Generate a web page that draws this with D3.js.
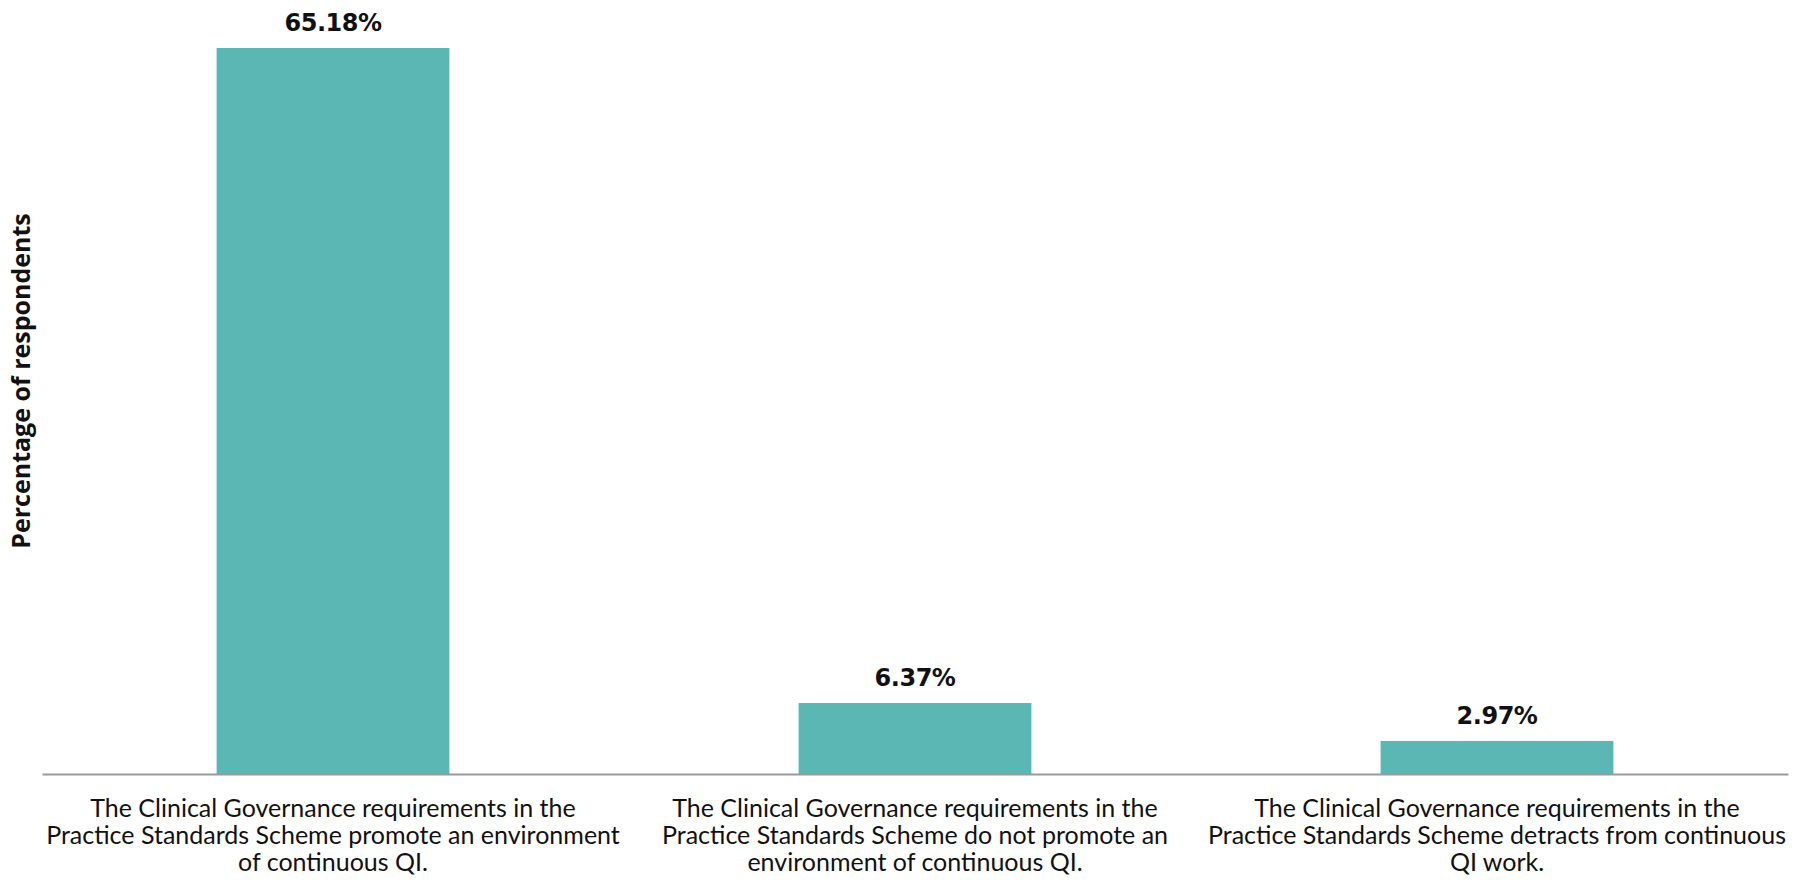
<!DOCTYPE html>
<html>
<head>
<meta charset="utf-8">
<script src="https://cdn.jsdelivr.net/npm/d3@7"></script>
<style>
  body { margin: 0; background: #fff; }
  svg { display: block; }
</style>
</head>
<body>
<div id="chart"></div>
<script>
// data
const categories = [
  "The Clinical Governance requirements in the|Practice Standards Scheme promote an environment|of continuous QI.",
  "The Clinical Governance requirements in the|Practice Standards Scheme do not promote an|environment of continuous QI.",
  "The Clinical Governance requirements in the|Practice Standards Scheme detracts from continuous|QI work."
];
const values = [65.18, 6.37, 2.97];
const valueLabels = ["65.18%", "6.37%", "2.97%"];
const yTitle = "Percentage of respondents";

const width = 1798, height = 885;
const margin = { top: 48, right: 10, bottom: 111, left: 42 };

const svg = d3.select('#chart').append('svg')
  .attr('width', width)
  .attr('height', height);

const x = d3.scaleBand()
  .domain(d3.range(categories.length))
  .range([margin.left, width - margin.right])
  .paddingInner(0.6)
  .paddingOuter(0.3);

const y = d3.scaleLinear()
  .domain([0, d3.max(values)])
  .range([height - margin.bottom, margin.top]);

svg.selectAll('.bar')
  .data(values)
  .join('rect')
  .attr('class', 'bar')
  .attr('x', (d, i) => x(i))
  .attr('y', d => y(d))
  .attr('width', x.bandwidth())
  .attr('height', d => y(0) - y(d))
  .attr('fill', '#5bb7b3');

svg.selectAll('.val')
  .data(values)
  .join('text')
  .attr('class', 'val')
  .attr('x', (d, i) => x(i) + x.bandwidth() / 2)
  .attr('y', d => y(d) - 17)
  .attr('text-anchor', 'middle')
  .style('font-family', '"DejaVu Sans", sans-serif')
  .style('font-weight', 'bold')
  .style('font-size', '24px')
  .style('letter-spacing', '-0.5px')
  .attr('fill', '#111')
  .text((d, i) => valueLabels[i]);

// baseline
const xAxis = d3.axisBottom(x).tickSize(0).tickFormat('');
svg.append('g')
  .attr('transform', `translate(0,${y(0)})`)
  .call(xAxis)
  .call(g => g.select('.domain').attr('stroke', '#9a9a9a').attr('stroke-width', 2));

// category labels
const cat = svg.selectAll('.cat')
  .data(categories)
  .join('text')
  .attr('class', 'cat')
  .attr('text-anchor', 'middle')
  .style('font-family', 'Lato, sans-serif')
  .style('font-size', '25px')
  .attr('fill', '#111');

cat.selectAll('tspan')
  .data((d, i) => d.split('|').map(t => ({ t, i })))
  .join('tspan')
  .attr('x', d => x(d.i) + x.bandwidth() / 2)
  .attr('y', (d, j) => y(0) + 43 + j * 27)
  .text(d => d.t);

svg.append('text')
  .attr('transform', `translate(30,${(margin.top + y(0)) / 2 - 30}) rotate(-90)`)
  .attr('text-anchor', 'middle')
  .style('font-family', '"Open Sans", sans-serif')
  .style('font-weight', 'bold')
  .style('font-size', '25px')
  .attr('fill', '#111')
  .text(yTitle);
</script>
</body>
</html>
